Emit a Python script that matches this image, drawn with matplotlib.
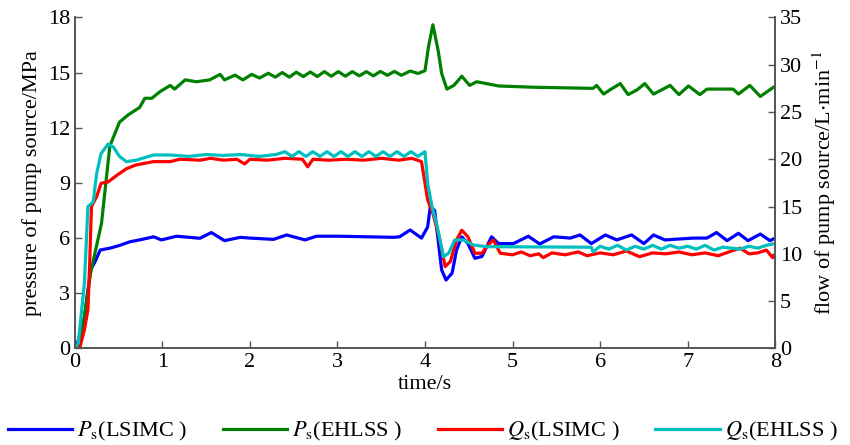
import matplotlib
matplotlib.use("Agg")
import matplotlib.pyplot as plt

plt.rcParams['font.family'] = ['Liberation Serif', 'Noto Sans CJK SC']
plt.rcParams['mathtext.fontset'] = 'stix'

# Ps (LSIMC), pressure in MPa
t_ps_lsimc = [0, 0.02, 0.11, 0.18, 0.23, 0.29, 0.4, 0.51, 0.63, 0.74, 0.9, 0.99, 1.16, 1.31,
              1.43, 1.56, 1.71, 1.89, 2.0, 2.27, 2.42, 2.63, 2.76, 3.03, 3.64, 3.71, 3.83, 3.96,
              4.03, 4.06, 4.11, 4.15, 4.19, 4.24, 4.31, 4.36, 4.42, 4.49, 4.57, 4.65, 4.76, 4.84,
              5.01, 5.18, 5.31, 5.47, 5.66, 5.77, 5.9, 6.06, 6.19, 6.36, 6.5, 6.61, 6.74, 7.07,
              7.22, 7.33, 7.45, 7.58, 7.69, 7.83, 7.94, 8.0]
ps_lsimc = [0, 0.1, 1.7, 4.27, 4.7, 5.35, 5.45, 5.6, 5.8, 5.9, 6.07, 5.9, 6.1, 6.04,
            5.99, 6.3, 5.86, 6.04, 6.0, 5.93, 6.17, 5.9, 6.1, 6.1, 6.04, 6.07, 6.44, 6.0,
            6.6, 7.7, 7.5, 5.9, 4.27, 3.72, 4.1, 5.35, 6.07, 5.7, 4.9, 5.0, 6.07, 5.7,
            5.7, 6.1, 5.68, 6.07, 6.0, 6.17, 5.7, 6.17, 5.9, 6.17, 5.7, 6.17, 5.9, 6.0,
            6.0, 6.3, 5.86, 6.26, 5.86, 6.22, 5.86, 6.0]

# Ps (EHLSS), pressure in MPa
t_ps_ehlss = [0, 0.05, 0.095, 0.18, 0.305, 0.4, 0.51, 0.61, 0.74, 0.8, 0.88, 0.97, 1.09, 1.14,
              1.26, 1.39, 1.54, 1.66, 1.71, 1.83, 1.92, 2.02, 2.11, 2.21, 2.29, 2.37, 2.45, 2.53,
              2.61, 2.69, 2.77, 2.85, 2.93, 3.01, 3.09, 3.17, 3.25, 3.33, 3.41, 3.49, 3.57, 3.65,
              3.73, 3.83, 3.92, 4.0, 4.04, 4.09, 4.15, 4.19, 4.25, 4.33, 4.42, 4.51, 4.59, 4.7,
              4.84, 5.24, 5.92, 5.96, 6.04, 6.11, 6.23, 6.32, 6.42, 6.51, 6.61, 6.7, 6.8, 6.9,
              7.01, 7.14, 7.22, 7.52, 7.58, 7.71, 7.83, 7.98, 8.0]
ps_ehlss = [0, 0.0, 1.2, 4.1, 6.8, 11.0, 12.3, 12.7, 13.1, 13.6, 13.6, 13.95, 14.3, 14.1,
            14.6, 14.5, 14.6, 14.9, 14.6, 14.86, 14.6, 14.9, 14.7, 14.96, 14.75, 15.0, 14.75, 15.02,
            14.78, 15.03, 14.78, 15.05, 14.8, 15.05, 14.8, 15.05, 14.82, 15.05, 14.82, 15.06, 14.85, 15.06,
            14.85, 15.08, 14.95, 15.1, 16.4, 17.6, 16.2, 14.96, 14.1, 14.3, 14.8, 14.3, 14.5, 14.4,
            14.27, 14.2, 14.14, 14.3, 13.83, 14.05, 14.4, 13.8, 14.05, 14.4, 13.83, 14.05, 14.3, 13.8,
            14.27, 13.8, 14.1, 14.1, 13.83, 14.3, 13.7, 14.2, 14.25]

# Qs (LSIMC), flow in L/min
t_qs_lsimc = [0, 0.06, 0.11, 0.15, 0.17, 0.19, 0.25, 0.3, 0.38, 0.48, 0.59, 0.7, 0.9, 1.09,
              1.2, 1.43, 1.55, 1.7, 1.85, 1.94, 2.0, 2.2, 2.4, 2.6, 2.66, 2.72, 2.9, 3.1,
              3.3, 3.5, 3.7, 3.85, 3.96, 4.0, 4.03, 4.09, 4.17, 4.23, 4.29, 4.36, 4.42, 4.49,
              4.57, 4.65, 4.72, 4.78, 4.86, 5.0, 5.1, 5.2, 5.3, 5.35, 5.45, 5.6, 5.75, 5.85,
              6.0, 6.15, 6.3, 6.45, 6.6, 6.75, 6.9, 7.05, 7.2, 7.35, 7.5, 7.6, 7.7, 7.8,
              7.9, 7.97, 8.0]
qs_lsimc = [0, 0.2, 2.0, 4.1, 9.0, 15.0, 16.05, 17.46, 17.6, 18.3, 19.0, 19.4, 19.75, 19.75,
            20.0, 19.9, 20.1, 19.9, 20.0, 19.5, 20.0, 19.9, 20.1, 20.0, 19.2, 20.0, 19.9, 20.0,
            19.9, 20.1, 19.9, 20.1, 19.75, 17.46, 15.7, 14.3, 11.47, 8.65, 9.2, 11.47, 12.5, 11.8,
            10.06, 10.06, 10.94, 11.47, 10.06, 9.9, 10.2, 9.8, 10.0, 9.6, 10.1, 9.9, 10.2, 9.8,
            10.1, 9.9, 10.3, 9.7, 10.1, 10.0, 10.2, 9.9, 10.1, 9.8, 10.3, 10.6, 10.0, 10.1,
            10.4, 9.6, 9.9]

# Qs (EHLSS), flow in L/min
t_qs_ehlss = [0, 0.04, 0.11, 0.15, 0.21, 0.25, 0.3, 0.38, 0.44, 0.51, 0.59, 0.7, 0.9, 1.09,
              1.3, 1.5, 1.7, 1.9, 2.1, 2.3, 2.4, 2.48, 2.56, 2.64, 2.72, 2.8, 2.88, 2.96,
              3.04, 3.12, 3.2, 3.28, 3.36, 3.44, 3.52, 3.6, 3.68, 3.76, 3.84, 3.92, 4.0, 4.03,
              4.08, 4.14, 4.21, 4.27, 4.34, 4.44, 4.55, 4.7, 5.9, 5.92, 6.0, 6.1, 6.2, 6.3,
              6.4, 6.5, 6.6, 6.7, 6.8, 6.9, 7.0, 7.1, 7.2, 7.3, 7.4, 7.5, 7.6, 7.7,
              7.8, 7.9, 8.0]
qs_ehlss = [0, 0.55, 6.9, 15.0, 15.5, 18.5, 20.6, 21.6, 21.3, 20.3, 19.75, 19.9, 20.45, 20.45,
            20.3, 20.5, 20.4, 20.5, 20.3, 20.5, 20.8, 20.3, 20.8, 20.3, 20.8, 20.3, 20.8, 20.3,
            20.8, 20.3, 20.8, 20.3, 20.8, 20.3, 20.8, 20.3, 20.8, 20.3, 20.8, 20.3, 20.8, 17.46,
            15.0, 12.9, 9.7, 10.06, 11.47, 11.47, 10.94, 10.76, 10.7, 10.2, 10.8, 10.5, 10.9, 10.4,
            10.8, 10.5, 10.9, 10.5, 10.9, 10.6, 10.8, 10.5, 10.9, 10.4, 10.7, 10.6, 10.5, 10.8,
            10.6, 10.9, 11.1]

labels = [r'$P_{\rm s}$(LSIMC )', r'$P_{\rm s}$(EHLSS )', r'$Q_{\rm s}$(LSIMC )', r'$Q_{\rm s}$(EHLSS )']
colors = ['#0000ff', '#008000', '#ff0000', '#00bfbf']

fig = plt.figure(figsize=(8.5, 4.45), dpi=100)
ax = fig.add_axes([0.088, 0.217, 0.824, 0.744])
ax2 = ax.twinx()

lw = 2.3
l1, = ax.plot(t_ps_lsimc, ps_lsimc, color=colors[0], linewidth=lw)
l2, = ax.plot(t_ps_ehlss, ps_ehlss, color=colors[1], linewidth=lw)
l3, = ax2.plot(t_qs_lsimc, qs_lsimc, color=colors[2], linewidth=lw)
l4, = ax2.plot(t_qs_ehlss, qs_ehlss, color=colors[3], linewidth=lw)

ax.set_xlim(0, 8)
ax.set_ylim(0, 18)
ax2.set_ylim(0, 35)
ax.set_xticks(range(0, 9))
ax.set_yticks(range(0, 19, 3))
ax2.set_yticks(range(0, 36, 5))

for a in (ax, ax2):
    a.spines['top'].set_visible(False)
    for s in ('left', 'right', 'bottom'):
        a.spines[s].set_color('#555555')
        a.spines[s].set_linewidth(1.2)
    a.tick_params(direction='in', length=5, width=1, colors='#555555',
                  labelcolor='black', labelsize=16)

ax.set_xlabel('time/s', fontsize=16, labelpad=2)
ax.set_ylabel('pressure of pump source/MPa', fontsize=16, labelpad=4)
ax2.set_ylabel(r'flow of pump source/L$\cdot$min$^{-1}$', fontsize=16, labelpad=6)

fig.legend([l1, l2, l3, l4], labels, loc='center', ncol=4, frameon=False,
           bbox_to_anchor=(0.497, 0.03), fontsize=16, handlelength=2.9,
           columnspacing=1.6, handletextpad=0.22, borderaxespad=0, borderpad=0)

fig.savefig('out.png', dpi=100)
